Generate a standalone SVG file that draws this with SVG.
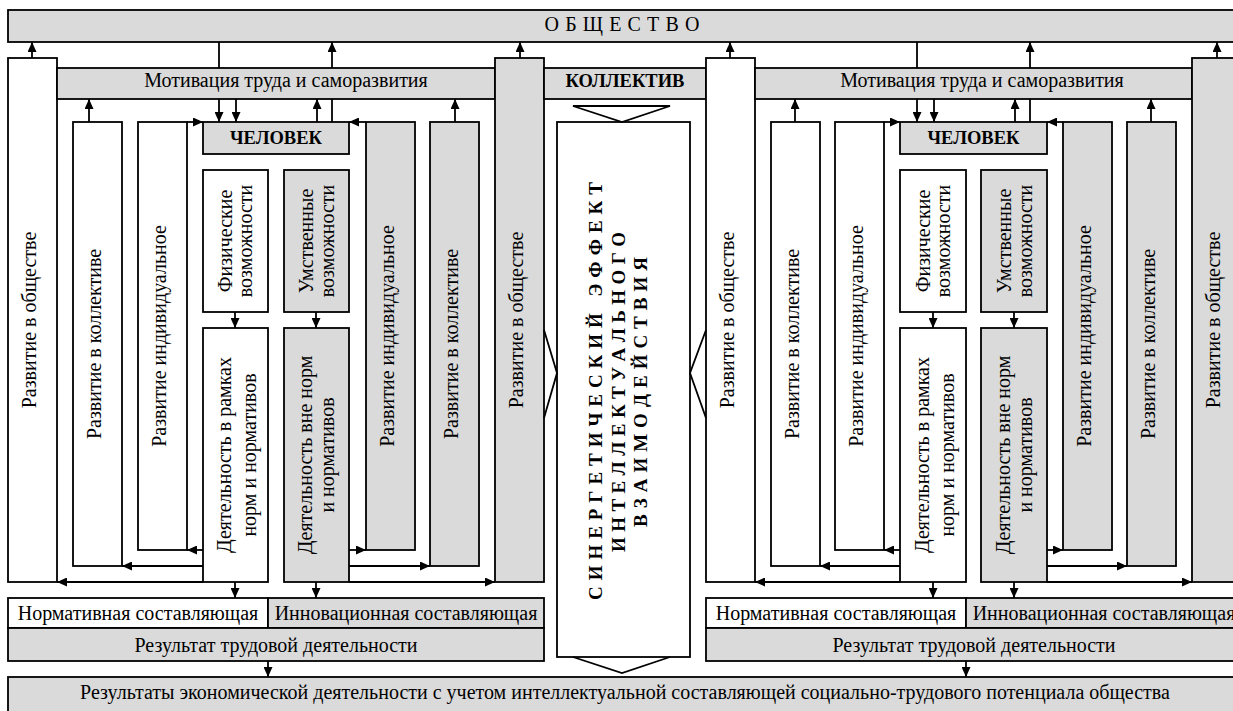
<svg xmlns="http://www.w3.org/2000/svg" width="1233" height="711" viewBox="0 0 1233 711">
<style>
.box{stroke:#000;stroke-width:1.8}
.w{fill:#fff}
.g{fill:#dadada}
.t{font-family:"Liberation Serif","Times New Roman",serif;font-size:20px;fill:#000;text-anchor:middle}
.b{font-weight:bold;font-size:18.5px}
.s{font-weight:bold;font-size:19px}
.ln{stroke:#000;stroke-width:1.8;fill:none}
.ar{marker-end:url(#ah)}
</style>
<defs>
<marker id="ah" viewBox="0 0 10 9" refX="10" refY="4.5" markerWidth="10" markerHeight="9" markerUnits="userSpaceOnUse" orient="auto"><path d="M0,0 L10,4.5 L0,9 z" fill="#000"/></marker>
</defs>
<rect width="1233" height="711" fill="#fff"/>

<g id="obshchestvo"><rect class="box g" x="8" y="10" width="1245" height="32"/><text class="t" x="622" y="31" textLength="155" lengthAdjust="spacing">О Б Щ Е С Т В О</text></g>

<!-- LEFT -->
<g id="l-soc"><rect class="box w" x="8" y="58" width="49" height="524"/><text class="t" transform="translate(35.5,320) rotate(-90)">Развитие в обществе</text></g>
<g id="l-mot"><rect class="box g" x="57" y="68" width="438" height="31"/><text class="t" x="286" y="87">Мотивация труда и саморазвития</text></g>
<g id="l-kol"><rect class="box w" x="73" y="122" width="49" height="444"/><text class="t" transform="translate(100.5,344) rotate(-90)">Развитие в коллективе</text></g>
<g id="l-ind"><rect class="box w" x="138" y="122" width="49" height="428"/><text class="t" transform="translate(165.5,336) rotate(-90)">Развитие индивидуальное</text></g>
<g id="l-chel"><rect class="box g" x="203" y="122" width="146" height="32"/><text class="t b" x="276" y="144">ЧЕЛОВЕК</text></g>
<g id="l-fiz"><rect class="box w" x="203" y="170" width="65" height="142"/><text class="t" transform="translate(232,241) rotate(-90)">Физические</text><text class="t" transform="translate(252,241) rotate(-90)">возможности</text></g>
<g id="l-umst"><rect class="box g" x="284" y="170" width="65" height="142"/><text class="t" transform="translate(313,241) rotate(-90)">Умственные</text><text class="t" transform="translate(334,241) rotate(-90)">возможности</text></g>
<g id="l-dn"><rect class="box w" x="203" y="328" width="65" height="254"/><text class="t" transform="translate(231,455) rotate(-90)">Деятельность в рамках</text><text class="t" transform="translate(256,455) rotate(-90)">норм и нормативов</text></g>
<g id="l-dv"><rect class="box g" x="284" y="328" width="65" height="254"/><text class="t" transform="translate(312,455) rotate(-90)">Деятельность вне норм</text><text class="t" transform="translate(334,455) rotate(-90)">и нормативов</text></g>
<g id="l-ind2"><rect class="box g" x="366" y="122" width="49" height="428"/><text class="t" transform="translate(393.5,336) rotate(-90)">Развитие индивидуальное</text></g>
<g id="l-kol2"><rect class="box g" x="430" y="122" width="49" height="444"/><text class="t" transform="translate(457.5,344) rotate(-90)">Развитие в коллективе</text></g>
<g id="l-soc2"><rect class="box g" x="495" y="58" width="49" height="524"/><text class="t" transform="translate(522.5,320) rotate(-90)">Развитие в обществе</text></g>
<g id="l-norm"><rect class="box w" x="8" y="598" width="260" height="30"/><text class="t" x="138" y="620">Нормативная составляющая</text></g>
<g id="l-innov"><rect class="box g" x="268" y="598" width="276" height="30"/><text class="t" x="406" y="620">Инновационная составляющая</text></g>
<g id="l-res"><rect class="box g" x="8" y="628" width="536" height="33"/><text class="t" x="276" y="652">Результат трудовой деятельности</text></g>

<!-- CENTER -->
<g id="kollektiv"><rect class="box g" x="544" y="68" width="162" height="31"/><text class="t b" x="625" y="87">КОЛЛЕКТИВ</text></g>
<g id="synergy"><rect class="box w" x="557" y="122" width="133" height="535"/>
<text class="t s" xml:space="preserve" transform="translate(602,391) rotate(-90)" textLength="418" lengthAdjust="spacing">С И Н Е Р Г Е Т И Ч Е С К И Й   Э Ф Ф Е К Т</text>
<text class="t s" transform="translate(625,392) rotate(-90)" textLength="320" lengthAdjust="spacing">И Н Т Е Л Л Е К Т У А Л Ь Н О Г О</text>
<text class="t s" transform="translate(647,392) rotate(-90)" textLength="270" lengthAdjust="spacing">В З А И М О Д Е Й С Т В И Я</text>
</g>

<!-- RIGHT -->
<g id="r-soc"><rect class="box w" x="706" y="58" width="49" height="524"/><text class="t" transform="translate(733.5,320) rotate(-90)">Развитие в обществе</text></g>
<g id="r-mot"><rect class="box g" x="755" y="68" width="437" height="31"/><text class="t" x="982" y="87">Мотивация труда и саморазвития</text></g>
<g id="r-kol"><rect class="box w" x="771" y="122" width="49" height="444"/><text class="t" transform="translate(798.5,344) rotate(-90)">Развитие в коллективе</text></g>
<g id="r-ind"><rect class="box w" x="835" y="122" width="49" height="428"/><text class="t" transform="translate(862.5,336) rotate(-90)">Развитие индивидуальное</text></g>
<g id="r-chel"><rect class="box g" x="900" y="122" width="147" height="32"/><text class="t b" x="973.5" y="144">ЧЕЛОВЕК</text></g>
<g id="r-fiz"><rect class="box w" x="900" y="170" width="66" height="142"/><text class="t" transform="translate(930,241) rotate(-90)">Физические</text><text class="t" transform="translate(950,241) rotate(-90)">возможности</text></g>
<g id="r-umst"><rect class="box g" x="981" y="170" width="66" height="142"/><text class="t" transform="translate(1011,241) rotate(-90)">Умственные</text><text class="t" transform="translate(1032,241) rotate(-90)">возможности</text></g>
<g id="r-dn"><rect class="box w" x="900" y="328" width="66" height="254"/><text class="t" transform="translate(929,455) rotate(-90)">Деятельность в рамках</text><text class="t" transform="translate(954,455) rotate(-90)">норм и нормативов</text></g>
<g id="r-dv"><rect class="box g" x="981" y="328" width="66" height="254"/><text class="t" transform="translate(1010,455) rotate(-90)">Деятельность вне норм</text><text class="t" transform="translate(1032,455) rotate(-90)">и нормативов</text></g>
<g id="r-ind2"><rect class="box g" x="1063" y="122" width="49" height="428"/><text class="t" transform="translate(1090.5,336) rotate(-90)">Развитие индивидуальное</text></g>
<g id="r-kol2"><rect class="box g" x="1127" y="122" width="49" height="444"/><text class="t" transform="translate(1154.5,344) rotate(-90)">Развитие в коллективе</text></g>
<g id="r-soc2"><rect class="box g" x="1192" y="58" width="60" height="524"/><text class="t" transform="translate(1219.5,320) rotate(-90)">Развитие в обществе</text></g>
<g id="r-norm"><rect class="box w" x="706" y="598" width="260" height="30"/><text class="t" x="836" y="620">Нормативная составляющая</text></g>
<g id="r-innov"><rect class="box g" x="966" y="598" width="290" height="30"/><text class="t" x="1104" y="620">Инновационная составляющая</text></g>
<g id="r-res"><rect class="box g" x="706" y="628" width="550" height="33"/><text class="t" x="974" y="652">Результат трудовой деятельности</text></g>

<g id="result"><rect class="box g" x="8" y="677" width="1250" height="45"/><text class="t" x="625" y="699">Результаты экономической деятельности с учетом интеллектуальной составляющей социально-трудового потенциала общества</text></g>

<g id="connectors">
<!-- left -->
<line class="ln ar" x1="32" y1="58" x2="32" y2="42"/>
<line class="ln" x1="219" y1="42" x2="219" y2="68"/>
<line class="ln ar" x1="332" y1="68" x2="332" y2="42"/>
<line class="ln ar" x1="219" y1="99" x2="219" y2="122"/>
<line class="ln ar" x1="236" y1="99" x2="236" y2="122"/>
<line class="ln ar" x1="317" y1="122" x2="317" y2="99"/>
<line class="ln" x1="332" y1="122" x2="332" y2="99"/>
<line class="ln ar" x1="89" y1="122" x2="89" y2="99"/>
<line class="ln ar" x1="187" y1="122" x2="203" y2="122"/>
<line class="ln ar" x1="366" y1="122" x2="349" y2="122"/>
<line class="ln ar" x1="455" y1="122" x2="455" y2="99"/>
<line class="ln ar" x1="520" y1="58" x2="520" y2="42"/>
<line class="ln ar" x1="235" y1="312" x2="235" y2="328"/>
<line class="ln ar" x1="316" y1="312" x2="316" y2="328"/>
<line class="ln ar" x1="203" y1="550" x2="187" y2="550"/>
<line class="ln ar" x1="203" y1="566" x2="122" y2="566"/>
<line class="ln ar" x1="203" y1="582" x2="57" y2="582"/>
<line class="ln ar" x1="349" y1="550" x2="366" y2="550"/>
<line class="ln ar" x1="349" y1="566" x2="430" y2="566"/>
<line class="ln ar" x1="349" y1="582" x2="495" y2="582"/>
<line class="ln ar" x1="235" y1="582" x2="235" y2="598"/>
<line class="ln ar" x1="316" y1="582" x2="316" y2="598"/>
<line class="ln ar" x1="268" y1="661" x2="268" y2="677"/>
<!-- center -->
<polygon class="ln" fill="#fff" points="573,106 670,106 622,122"/>
<polyline class="ln" points="573,657 622,673 670,657"/>
<polyline class="ln" points="544,330 557,373 544,418"/>
<polyline class="ln" points="706,330 690,373 706,418"/>
<!-- right -->
<line class="ln ar" x1="730" y1="58" x2="730" y2="42"/>
<line class="ln" x1="917" y1="42" x2="917" y2="68"/>
<line class="ln ar" x1="1030" y1="68" x2="1030" y2="42"/>
<line class="ln ar" x1="917" y1="99" x2="917" y2="122"/>
<line class="ln ar" x1="934" y1="99" x2="934" y2="122"/>
<line class="ln ar" x1="1015" y1="122" x2="1015" y2="99"/>
<line class="ln" x1="1030" y1="122" x2="1030" y2="99"/>
<line class="ln ar" x1="795" y1="122" x2="795" y2="99"/>
<line class="ln ar" x1="884" y1="122" x2="900" y2="122"/>
<line class="ln ar" x1="1063" y1="122" x2="1047" y2="122"/>
<line class="ln ar" x1="1151" y1="122" x2="1151" y2="99"/>
<line class="ln ar" x1="1217" y1="58" x2="1217" y2="42"/>
<line class="ln ar" x1="933" y1="312" x2="933" y2="328"/>
<line class="ln ar" x1="1014" y1="312" x2="1014" y2="328"/>
<line class="ln ar" x1="900" y1="550" x2="884" y2="550"/>
<line class="ln ar" x1="900" y1="566" x2="820" y2="566"/>
<line class="ln ar" x1="900" y1="582" x2="755" y2="582"/>
<line class="ln ar" x1="1047" y1="550" x2="1063" y2="550"/>
<line class="ln ar" x1="1047" y1="566" x2="1127" y2="566"/>
<line class="ln ar" x1="1047" y1="582" x2="1192" y2="582"/>
<line class="ln ar" x1="933" y1="582" x2="933" y2="598"/>
<line class="ln ar" x1="1014" y1="582" x2="1014" y2="598"/>
<line class="ln ar" x1="966" y1="661" x2="966" y2="677"/>
</g>
</svg>
